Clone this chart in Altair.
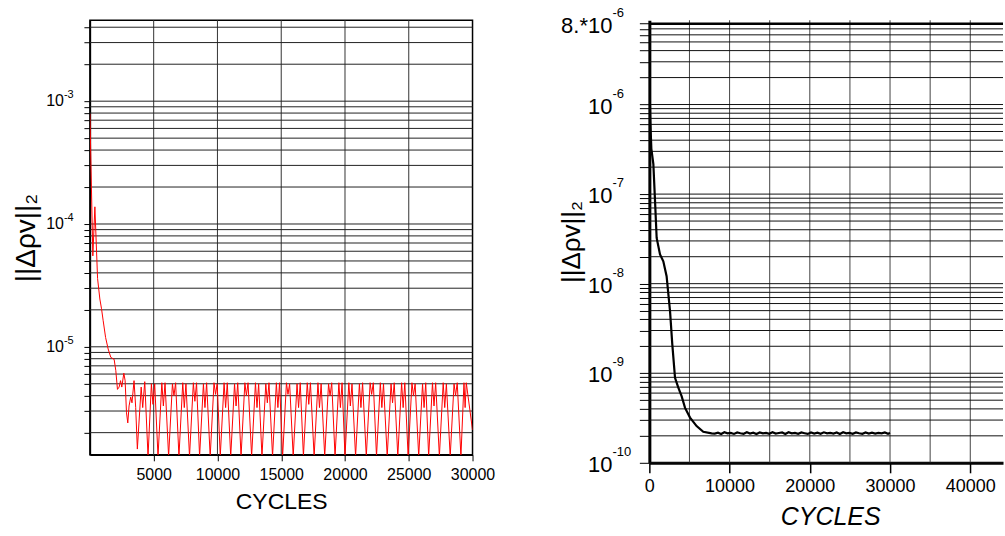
import altair as alt
import pandas as pd

FONT = "Liberation Sans"

# ---------------- left panel data ----------------
left_cycles = [
    0, 230, 390, 600, 780, 910, 1040, 1230, 1430, 1640, 1900, 2030, 2160,
    2290, 2400, 2500, 2660, 2760, 2870, 2970, 3070, 3200, 3300, 3460, 3590,
    3720, 4020, 4140, 4300,
    4557, 4820, 4945, 5080,
    5340, 5640, 5760, 5890,
    6170, 6470, 6590, 6720,
    6980, 7280, 7400, 7530,
    7810, 8110, 8230, 8360,
    8600, 8900, 9020, 9150,
    9430, 9730, 9850, 9980,
    10220, 10520, 10640, 10770,
    11040, 11340, 11460, 11590,
    11850, 12150, 12270, 12400,
    12680, 12980, 13100, 13230,
    13490, 13790, 13910, 14040,
    14320, 14620, 14740, 14870,
    15110, 15410, 15530, 15660,
    15940, 16240, 16360, 16490,
    16740, 17040, 17160, 17290,
    17580, 17880, 18000, 18130,
    18410, 18710, 18830, 18960,
    19220, 19520, 19640, 19770,
    20000, 20300, 20420, 20550,
    20830, 21130, 21250, 21380,
    21670, 21970, 22090, 22220,
    22470, 22770, 22890, 23020,
    23310, 23610, 23730, 23860,
    24140, 24440, 24560, 24690,
    24950, 25250, 25370, 25500,
    25780, 26080, 26200, 26330,
    26560, 26860, 26980, 27110,
    27400, 27700, 27820, 27950,
    28250, 28550, 28670, 28800,
    29090, 29330, 29420, 29510,
    30000,
]
left_norm = [
    7.9e-4, 5.5e-5, 1.38e-4, 3.6e-5, 2.45e-5, 2.04e-5, 1.63e-5, 1.19e-5,
    9.6e-6, 8.2e-6, 7.9e-6, 6.4e-6, 4.5e-6, 4.7e-6, 5.3e-6, 4.7e-6, 6.1e-6,
    5.3e-6, 2.9e-6, 2.4e-6, 3.3e-6, 3.9e-6, 3.5e-6, 5.3e-6, 3.2e-6,
    1.47e-6, 4.7e-6, 3.2e-6, 5.2e-6,
    1.28e-6, 5.0e-6, 3.4e-6, 5.0e-6,
    1.28e-6, 5.1e-6, 3.3e-6, 5.1e-6,
    1.28e-6, 5.0e-6, 4.0e-6, 5.1e-6,
    1.28e-6, 5.1e-6, 3.2e-6, 5.0e-6,
    1.28e-6, 5.1e-6, 3.6e-6, 5.1e-6,
    1.28e-6, 5.0e-6, 3.2e-6, 5.1e-6,
    1.28e-6, 5.1e-6, 4.1e-6, 5.0e-6,
    1.28e-6, 5.1e-6, 3.2e-6, 5.1e-6,
    1.28e-6, 5.0e-6, 3.3e-6, 5.1e-6,
    1.28e-6, 5.1e-6, 4.0e-6, 5.1e-6,
    1.28e-6, 5.1e-6, 3.2e-6, 5.0e-6,
    1.28e-6, 5.0e-6, 3.5e-6, 5.1e-6,
    1.28e-6, 5.1e-6, 3.2e-6, 5.1e-6,
    1.28e-6, 5.1e-6, 4.1e-6, 5.0e-6,
    1.28e-6, 5.0e-6, 3.2e-6, 5.1e-6,
    1.28e-6, 5.1e-6, 3.4e-6, 5.1e-6,
    1.28e-6, 5.1e-6, 3.2e-6, 5.0e-6,
    1.28e-6, 5.0e-6, 4.0e-6, 5.1e-6,
    1.28e-6, 5.1e-6, 3.2e-6, 5.1e-6,
    1.28e-6, 5.1e-6, 3.3e-6, 5.0e-6,
    1.28e-6, 5.0e-6, 3.2e-6, 5.1e-6,
    1.28e-6, 5.1e-6, 4.1e-6, 5.1e-6,
    1.28e-6, 5.1e-6, 3.2e-6, 5.0e-6,
    1.28e-6, 5.0e-6, 3.5e-6, 5.1e-6,
    1.28e-6, 5.1e-6, 3.2e-6, 5.1e-6,
    1.28e-6, 5.1e-6, 4.0e-6, 5.0e-6,
    1.28e-6, 5.0e-6, 3.2e-6, 5.1e-6,
    1.28e-6, 5.1e-6, 3.3e-6, 5.1e-6,
    1.28e-6, 5.1e-6, 3.2e-6, 5.0e-6,
    1.28e-6, 5.0e-6, 4.0e-6, 5.1e-6,
    1.28e-6, 5.1e-6, 3.2e-6, 5.1e-6,
    2.1e-6,
]
left_xdomain = [0, 30000]
left_ydomain = [1.32e-6, 4.56e-3]
left_x_ticks = [5000, 10000, 15000, 20000, 25000, 30000]
left_vgrid = [5000, 10000, 15000, 20000, 25000]
left_mantissas = [1, 2, 3, 4, 5, 6, 7, 8, 9]
left_exponents = [-6, -5, -4, -3]
left_hgrid = [m * 10.0 ** e for e in left_exponents for m in left_mantissas
              if left_ydomain[0] <= m * 10.0 ** e <= left_ydomain[1]]
left_label_vals = [1e-3, 1e-4, 1e-5]
left_label_base = ["10", "10", "10"]
left_label_exp = ["-3", "-4", "-5"]

# ---------------- right panel data ----------------
right_cycles = [
    0, 120, 250, 500, 710, 910, 1330, 1740, 2150, 2580, 2860, 3200, 3610,
    4020, 4450, 5070, 5890, 6720, 7760,
    8150, 8550, 8950, 9350, 9750, 10150, 10550, 10950, 11350, 11750, 12150,
    12550, 12950, 13350, 13750, 14150, 14550, 14950, 15350, 15750, 16150,
    16550, 16950, 17350, 17750, 18150, 18550, 18950, 19350, 19750, 20150,
    20550, 20950, 21350, 21750, 22150, 22550, 22950, 23350, 23750, 24150,
    24550, 24950, 25350, 25750, 26150, 26550, 26950, 27350, 27750, 28150,
    28550, 28950, 29350, 29750, 30000,
]
right_norm = [
    1.9e-6, 6.5e-7, 3.2e-7, 2.16e-7, 8.3e-8, 3.24e-8, 2.12e-8, 1.78e-8,
    1.21e-8, 4.9e-9, 2.1e-9, 8.9e-10, 6.9e-10, 5.55e-10, 4.1e-10, 3.2e-10,
    2.57e-10, 2.22e-10, 2.13e-10,
    2.12e-10, 2.17e-10, 2.10e-10, 2.19e-10, 2.13e-10, 2.16e-10, 2.10e-10,
    2.18e-10, 2.14e-10, 2.11e-10, 2.19e-10, 2.12e-10, 2.17e-10, 2.10e-10,
    2.18e-10, 2.13e-10, 2.16e-10, 2.11e-10, 2.19e-10, 2.12e-10, 2.15e-10,
    2.18e-10, 2.10e-10, 2.19e-10, 2.13e-10, 2.16e-10, 2.11e-10, 2.18e-10,
    2.14e-10, 2.10e-10, 2.18e-10, 2.12e-10, 2.17e-10, 2.11e-10, 2.19e-10,
    2.13e-10, 2.16e-10, 2.12e-10, 2.18e-10, 2.10e-10, 2.19e-10, 2.13e-10,
    2.16e-10, 2.11e-10, 2.18e-10, 2.14e-10, 2.11e-10, 2.18e-10, 2.12e-10,
    2.17e-10, 2.12e-10, 2.16e-10, 2.13e-10, 2.18e-10, 2.11e-10, 2.15e-10,
]
right_xdomain = [0, 44080]
right_ydomain = [1e-10, 8.73e-6]
right_x_ticks = [0, 10000, 20000, 30000, 40000]
right_vgrid = [5000, 10000, 15000, 20000, 25000, 30000, 35000, 40000]
right_exponents = [-10, -9, -8, -7, -6]
right_hgrid = [m * 10.0 ** e for e in right_exponents for m in left_mantissas
               if m * 10.0 ** e <= 8.01e-6]
right_top = [8e-6]
right_label_vals = [8e-6, 1e-6, 1e-7, 1e-8, 1e-9, 1e-10]
right_label_base = ["8.*10", "10", "10", "10", "10", "10"]
right_label_exp = ["-6", "-6", "-7", "-8", "-9", "-10"]

YTITLE = "||\u0394\u03c1v||\u2082"

# ---------------- left chart ----------------
xs_l = alt.Scale(domain=left_xdomain, nice=False, zero=False)
ys_l = alt.Scale(type="log", domain=left_ydomain, nice=False)
x_axis_l = alt.Axis(values=left_x_ticks, format="d", grid=False, tickSize=6, tickColor="black",
                    labelFontSize=16, labelFont=FONT, labelColor="black", labelPadding=6,
                    labelFlush=False, labelOverlap=False, domainColor="black", domainWidth=1.5,
                    title="CYCLES", titleFontSize=23, titleFont=FONT, titleFontWeight="normal",
                    titleColor="black", titlePadding=8)
y_axis_l = alt.Axis(values=left_hgrid, labels=False, grid=False, tickSize=6, tickColor="black",
                    domainColor="black", domainWidth=1.5, title=YTITLE, titleFontSize=28,
                    titleFont=FONT, titleFontWeight="normal", titleColor="black", titlePadding=43)

vgrid_l = alt.Chart(pd.DataFrame({"x": left_vgrid})).mark_rule(color="#333", strokeWidth=1).encode(
    x=alt.X("x:Q", scale=xs_l, axis=x_axis_l))
hgrid_l = alt.Chart(pd.DataFrame({"y": left_hgrid})).mark_rule(color="#222", strokeWidth=1).encode(
    y=alt.Y("y:Q", scale=ys_l, axis=y_axis_l))
line_l = alt.Chart(pd.DataFrame({"cycles": left_cycles, "norm": left_norm})).mark_line(
    color="#ff0000", strokeWidth=1, clip=True).encode(
    x=alt.X("cycles:Q", scale=xs_l, axis=x_axis_l),
    y=alt.Y("norm:Q", scale=ys_l, axis=y_axis_l))
lab_df_l = pd.DataFrame({"v": left_label_vals, "base": left_label_base, "exp": left_label_exp})
lab_base_l = alt.Chart(lab_df_l).mark_text(align="right", baseline="middle", fontSize=16,
                                          font=FONT, color="black").encode(
    y=alt.Y("v:Q", scale=ys_l, axis=y_axis_l), x=alt.value(-26), text="base:N")
lab_exp_l = alt.Chart(lab_df_l).mark_text(align="left", baseline="middle", fontSize=11,
                                         font=FONT, color="black", dy=-6).encode(
    y=alt.Y("v:Q", scale=ys_l, axis=y_axis_l), x=alt.value(-26), text="exp:N")

left = alt.layer(vgrid_l, hgrid_l, line_l, lab_base_l, lab_exp_l).properties(
    width=383, height=435, view=alt.ViewBackground(stroke="black", strokeWidth=1.5))

# ---------------- right chart ----------------
xs_r = alt.Scale(domain=right_xdomain, nice=False, zero=False)
ys_r = alt.Scale(type="log", domain=right_ydomain, nice=False)
x_axis_r = alt.Axis(values=right_x_ticks, format="d", grid=False, tickSize=10, tickColor="black",
                    tickWidth=1.5, labelFontSize=18, labelFont=FONT, labelColor="black",
                    labelPadding=5, labelFlush=False, labelOverlap=False, domainColor="black",
                    domainWidth=3, title="CYCLES", titleFontSize=25, titleFont=FONT,
                    titleFontWeight="normal", titleFontStyle="italic", titleColor="black",
                    titlePadding=9, titleX=181)
y_axis_r = alt.Axis(values=right_hgrid, labels=False, grid=False, tickSize=10, tickColor="black",
                    domainColor="black", domainWidth=3, title=YTITLE, titleFontSize=26,
                    titleFont=FONT, titleFontWeight="normal", titleColor="black", titlePadding=54)

vgrid_r = alt.Chart(pd.DataFrame({"x": right_vgrid})).mark_rule(color="#444", strokeWidth=1).encode(
    x=alt.X("x:Q", scale=xs_r, axis=x_axis_r))
hgrid_r = alt.Chart(pd.DataFrame({"y": right_hgrid})).mark_rule(color="#111", strokeWidth=1).encode(
    y=alt.Y("y:Q", scale=ys_r, axis=y_axis_r))
top_r = alt.Chart(pd.DataFrame({"y": right_top})).mark_rule(color="black", strokeWidth=2.5).encode(
    y=alt.Y("y:Q", scale=ys_r, axis=y_axis_r))
line_r = alt.Chart(pd.DataFrame({"cycles": right_cycles, "norm": right_norm})).mark_line(
    color="black", strokeWidth=2.2, clip=True).encode(
    x=alt.X("cycles:Q", scale=xs_r, axis=x_axis_r),
    y=alt.Y("norm:Q", scale=ys_r, axis=y_axis_r))
lab_df_r = pd.DataFrame({"v": right_label_vals, "base": right_label_base, "exp": right_label_exp})
lab_base_r = alt.Chart(lab_df_r).mark_text(align="right", baseline="middle", fontSize=22,
                                          font=FONT, color="black", dy=2).encode(
    y=alt.Y("v:Q", scale=ys_r, axis=y_axis_r), x=alt.value(-37), text="base:N")
lab_exp_r = alt.Chart(lab_df_r).mark_text(align="left", baseline="middle", fontSize=13,
                                         font=FONT, color="black", dy=-11).encode(
    y=alt.Y("v:Q", scale=ys_r, axis=y_axis_r), x=alt.value(-37), text="exp:N")

right = alt.layer(vgrid_r, hgrid_r, top_r, line_r, lab_base_r, lab_exp_r).properties(
    width=354, height=443, view=alt.ViewBackground(stroke="transparent"))

chart = alt.hconcat(left, right, spacing=177, bounds="flush").properties(
    padding={"left": 11, "top": 5, "right": 0, "bottom": 0}, background="white")

chart.save("out.html", embed_options={"renderer": "svg", "actions": False})
